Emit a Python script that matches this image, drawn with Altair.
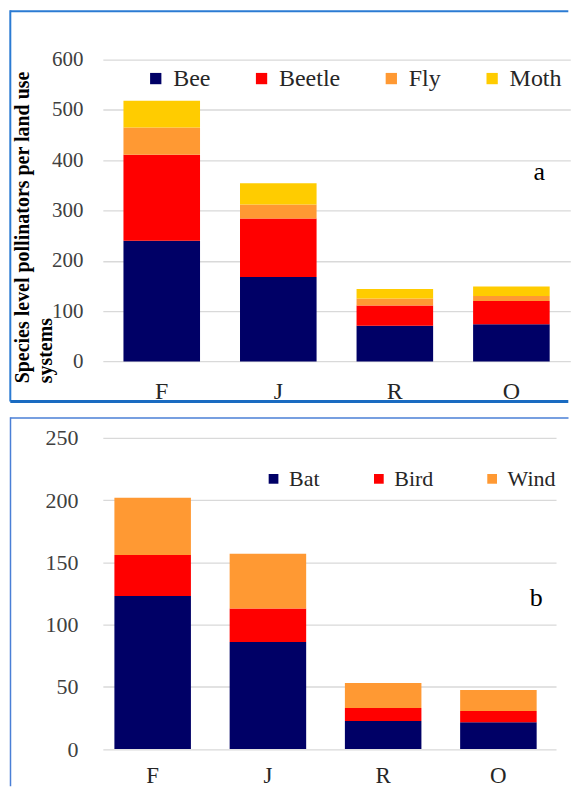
import altair as alt
import pandas as pd

# ---------------- data ----------------
categories = ["F", "J", "R", "O"]

insect_groups = ["Bee", "Beetle", "Fly", "Moth"]
bee = [240, 168, 71, 74]
beetle = [171, 116, 40, 46]
fly = [54, 28, 14, 10]
moth = [53, 42, 19, 19]
insect_colors = ["#000066", "#FF0000", "#FF9933", "#FFCC00"]
top_ticks = [0, 100, 200, 300, 400, 500, 600]

other_groups = ["Bat", "Bird", "Wind"]
bat = [123, 86, 22.5, 21.5]
bird = [33, 27, 10.5, 9]
wind = [46, 44, 20, 17]
other_colors = ["#000066", "#FF0000", "#FF9933"]
bottom_ticks = [0, 50, 100, 150, 200, 250]

top_series = [bee, beetle, fly, moth]
bottom_series = [bat, bird, wind]

def long_table(groups, series):
    rows = []
    for gi, (g, vals) in enumerate(zip(groups, series)):
        for c, v in zip(categories, vals):
            rows.append({"system": c, "group": g, "count": v, "order": gi})
    return pd.DataFrame(rows)

top_df = long_table(insect_groups, top_series)
bottom_df = long_table(other_groups, bottom_series)

serif = "Liberation Serif"
TOP_W, TOP_H = 468.3, 302.4
BOT_W, BOT_H = 454, 311.7


def frame_rule(color, width, x=None, x2=None, y=None, y2=None):
    enc = {}
    if x is not None:
        enc["x"] = alt.value(x)
    if x2 is not None:
        enc["x2"] = alt.value(x2)
    if y is not None:
        enc["y"] = alt.value(y)
    if y2 is not None:
        enc["y2"] = alt.value(y2)
    return alt.Chart(alt.Data(values=[{"k": 1}])).mark_rule(
        color=color, strokeWidth=width, strokeCap="butt"
    ).encode(**enc)


def panel(df, groups, colors, ymax, ticks, scale_kw,
          y_title, title_kw, tick_font, tick_pad, x_font, x_pad,
          legend_kw, letter, letter_value, letter_dx):
    x_enc = alt.X(
        "system:N",
        sort=categories,
        scale=alt.Scale(domain=categories, **scale_kw),
        axis=alt.Axis(
            title=None, labelAngle=0, labelFont=serif, labelFontSize=x_font,
            labelColor="#262626", labelPadding=x_pad, ticks=False, tickSize=0,
            domain=False, grid=False,
        ),
    )
    axis_kw = dict(
        values=ticks, labelFont=serif, labelFontSize=tick_font,
        labelColor="#404040", labelPadding=tick_pad, ticks=False, tickSize=0,
        domain=False, gridColor="#D9D9D9", gridWidth=1.3,
    )
    if y_title is not None:
        axis_kw.update(title=y_title, **title_kw)
    else:
        axis_kw.update(title=None)
    y_enc = alt.Y(
        "count:Q", stack="zero",
        scale=alt.Scale(domain=[0, ymax], nice=False),
        axis=alt.Axis(**axis_kw),
    )
    bars = alt.Chart(df).mark_bar().encode(
        x=x_enc,
        y=y_enc,
        color=alt.Color(
            "group:N",
            scale=alt.Scale(domain=groups, range=colors),
            legend=alt.Legend(
                title=None, orient="none", direction="horizontal",
                symbolType="square", symbolStrokeWidth=0, symbolOpacity=1,
                labelFont=serif, labelColor="#262626", padding=0,
                **legend_kw,
            ),
        ),
        order=alt.Order("order:Q", sort="ascending"),
    )
    label = alt.Chart(
        alt.Data(values=[{"system": "O", "count": letter_value, "label": letter}])
    ).mark_text(
        font=serif, fontSize=26, color="black", dx=letter_dx, baseline="middle"
    ).encode(x="system:N", y="count:Q", text="label:N")
    return bars, label


top_bars, top_label = panel(
    top_df, insect_groups, insect_colors, 600, top_ticks,
    dict(paddingInner=0.343, paddingOuter=0.177),
    ["Species level pollinators per land use", "systems"],
    dict(titleFont=serif, titleFontSize=20, titleFontWeight="bold",
         titleColor="black", titleAngle=270, titleAlign="left",
         titleBaseline="top", titleX=-90, titleY=323.8, titleLineHeight=23),
    21, 20, 24, 18,
    dict(legendX=41, legendY=7, symbolSize=128, labelFontSize=24,
         labelOffset=5.5, columnPadding=39),
    "a", 377, 28,
)

top_frame = [
    frame_rule("#2B7BD3", 2, x=-92.7, x2=466.3, y=-48.5),
    frame_rule("#2B7BD3", 2, x=-92.7, y=-49.5, y2=342.4),
    frame_rule("#1A6BC1", 3, x=-92.7, x2=466.3, y=342.4),
]

top_chart = alt.layer(top_bars, top_label, *top_frame).properties(
    width=TOP_W, height=TOP_H
)

bot_bars, bot_label = panel(
    bottom_df, other_groups, other_colors, 250, bottom_ticks,
    dict(paddingInner=0.336, paddingOuter=0.1342, align=0.374),
    None, {},
    22, 25, 23, 15.4,
    dict(legendX=160, legendY=30, symbolSize=95, labelFontSize=22,
         labelOffset=4.5, columnPadding=47.5),
    "b", 121, 38,
)

bot_frame = [
    frame_rule("#4A7FD6", 1.5, x=-92.5, x2=466.5, y=-20),
    frame_rule("#4A7FD6", 1.5, x=-92.5, y=-20.75, y2=349),
]

bottom_chart = alt.layer(bot_bars, bot_label, *bot_frame).properties(
    width=BOT_W, height=BOT_H
)

chart = alt.vconcat(top_chart, bottom_chart, spacing=12).resolve_scale(
    color="independent", x="independent", y="independent"
).resolve_legend(color="independent").properties(
    padding=0
).configure(background="white").configure_view(stroke=None)

chart.save("out.html", embed_options={"renderer": "svg", "actions": False})
